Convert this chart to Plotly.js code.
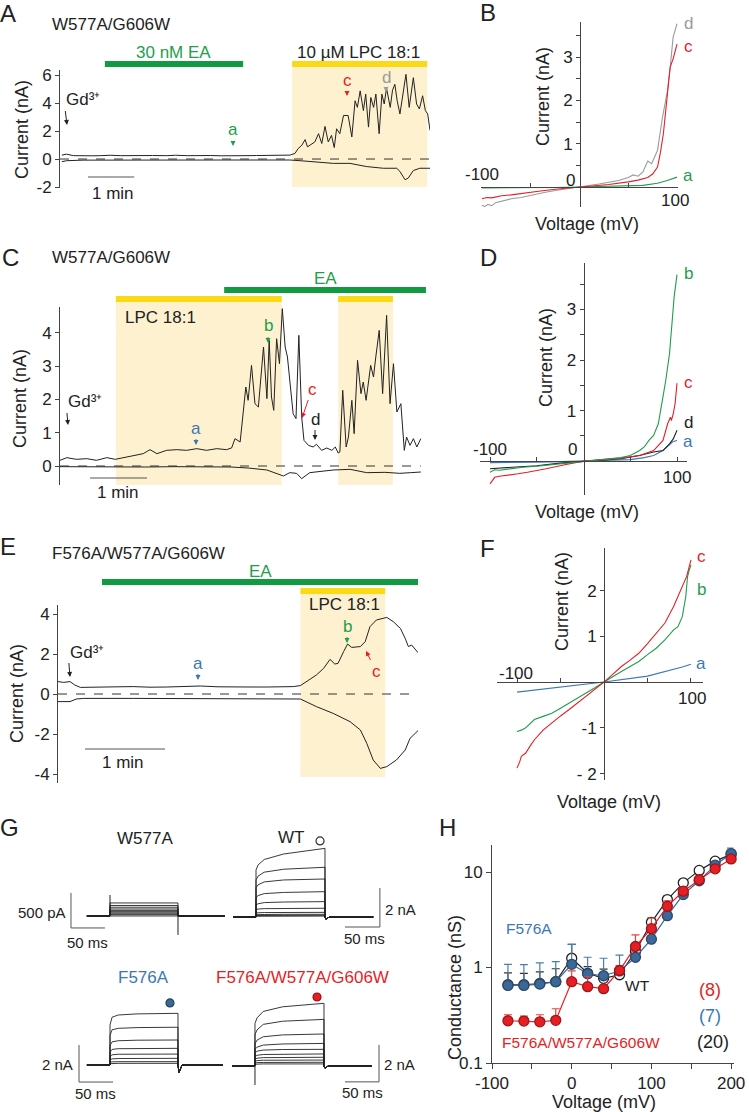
<!DOCTYPE html>
<html><head><meta charset="utf-8">
<script src="https://cdn.plot.ly/plotly-3.0.1.min.js"></script>
<style>html,body{margin:0;padding:0;background:#fff}#plot{width:749px;height:1112px}</style>
</head><body><div id="plot"></div>
<script>
// ---------- Panel A (time in min, current in nA) ----------
const aT  = [0.04,0.14,0.29,0.5,0.7,0.87,1.1,1.3,1.59,1.8,2.0,2.31,2.5,2.75,3.03,3.25,3.5,3.75,4.0,4.25,4.47,4.7,4.97,5.08,5.15,5.23,5.30,5.35,5.41,5.51,5.59,5.66,5.73,5.80,5.87,5.93,5.98,6.05,6.13,6.23,6.31,6.38,6.43,6.49,6.56,6.61,6.67,6.72,6.78,6.83,6.90,6.96,7.01,7.06,7.14,7.19,7.24,7.29,7.35,7.41,7.48,7.55,7.64,7.71,7.77,7.84,7.90,7.95,8.0];
const aUp = [0.28,0.35,0.24,0.26,0.23,0.24,0.27,0.24,0.26,0.23,0.25,0.24,0.27,0.24,0.26,0.25,0.23,0.26,0.24,0.25,0.26,0.25,0.28,0.40,0.75,0.99,1.39,0.87,0.99,1.22,1.81,1.11,2.33,1.22,1.69,0.82,2.16,1.81,3.11,3.11,1.58,4.16,3.69,4.87,3.46,4.64,2.28,4.40,3.69,4.64,1.81,4.64,3.93,5.06,3.69,4.92,5.34,4.16,3.22,4.40,6.05,3.69,5.81,3.93,3.58,4.52,3.46,3.22,2.05];
const aLoT = [0.04,0.14,0.5,1.0,1.5,2.0,2.5,3.0,3.5,4.0,4.5,4.97,5.19,5.55,5.91,6.27,6.63,6.99,7.28,7.35,7.46,7.53,7.64,7.78,8.0];
const aLo  = [-0.19,-0.12,-0.08,-0.07,-0.06,-0.07,-0.08,-0.06,-0.07,-0.07,-0.06,-0.07,-0.12,-0.19,-0.31,-0.31,-0.54,-0.66,-0.66,-0.89,-1.48,-1.36,-0.82,-0.66,-0.66];

// ---------- Panel B (mV, nA) ----------
const bVa = [-100,-75,-50,-25,0,25,50,65,80,90,100];
const bIa = [-0.02,-0.02,-0.01,-0.01,0,0.01,0.02,0.04,0.09,0.15,0.23];
const bVc = [-100,-95,-90,-80,-70,-55,-40,-25,-10,0,15,30,50,60,70,75,80,83,86,90,93,96,100];
const bIc = [-0.27,-0.24,-0.25,-0.2,-0.18,-0.13,-0.09,-0.05,-0.02,0,0.03,0.06,0.12,0.16,0.22,0.3,0.46,0.8,1.23,2.2,2.77,2.96,3.3];
const bVd = [-100,-97,-94,-90,-86,-80,-70,-60,-50,-35,-20,0,20,40,50,55,60,65,70,74,77,80,85,90,93,96,100];
const bId = [-0.42,-0.45,-0.4,-0.43,-0.36,-0.33,-0.27,-0.24,-0.19,-0.12,-0.06,0,0.07,0.15,0.22,0.28,0.25,0.35,0.6,0.54,0.7,0.85,1.6,2.2,2.77,3.46,3.77];

// ---------- Panel C ----------
const cT  = [0,0.12,0.29,0.47,0.64,0.82,0.97,1.11,1.29,1.46,1.58,1.70,1.87,2.05,2.22,2.40,2.57,2.75,2.92,3.01,3.07,3.16,3.26,3.30,3.36,3.42,3.48,3.57,3.63,3.67,3.71,3.75,3.80,3.85,3.90,3.95,3.99,4.04,4.09,4.14,4.19,4.24,4.28,4.36,4.44,4.50,4.59,4.68,4.77,4.83,4.88,4.91,4.96,5.02,5.06,5.12,5.16,5.22,5.28,5.32,5.37,5.45,5.50,5.54,5.60,5.66,5.73,5.79,5.85,5.91,5.98,6.04,6.08,6.14,6.20,6.26,6.33];
const cUp = [0.17,0.25,0.20,0.22,0.17,0.25,0.20,0.25,0.32,0.37,0.49,0.37,0.47,0.49,0.47,0.52,0.47,0.52,0.49,0.54,0.82,0.72,2.37,1.97,3.02,1.87,1.77,3.57,2.02,3.77,2.07,1.67,3.82,3.07,4.72,3.57,3.27,2.37,1.57,1.42,3.92,1.47,0.77,0.62,0.57,0.65,0.47,0.54,0.47,0.57,0.39,0.42,2.27,0.57,0.87,1.97,0.97,3.17,2.17,2.52,1.97,3.02,2.67,3.27,4.07,2.17,4.52,1.87,3.07,1.62,1.87,0.47,0.87,0.62,0.82,0.57,0.82];
const cLoT = [0,0.5,1.0,1.5,2.0,2.5,3.0,3.3,3.63,3.92,4.03,4.15,4.24,4.38,4.79,5.09,5.38,5.7,5.96,6.15,6.33];
const cLo  = [-0.02,-0.03,-0.02,-0.03,-0.02,-0.03,-0.03,-0.06,-0.12,-0.30,-0.20,-0.22,-0.38,-0.20,-0.12,-0.10,-0.20,-0.19,-0.22,-0.20,-0.18];

// ---------- Panel D ----------
const dVb = [-100,-95,-90,-80,-65,-50,-35,-20,0,20,40,50,60,65,70,75,80,85,88,92,95,97,100];
const dIb = [-0.22,-0.17,-0.18,-0.15,-0.12,-0.1,-0.07,-0.04,0,0.03,0.07,0.11,0.21,0.28,0.41,0.51,0.74,1.27,1.6,2.13,2.79,3.26,3.69];
const dVc = [-100,-97,-95,-90,-80,-70,-60,-50,-40,-20,0,20,40,60,75,85,88,90,93,94,96,98,100];
const dIc = [-0.45,-0.36,-0.32,-0.3,-0.28,-0.25,-0.22,-0.19,-0.15,-0.07,0,0.03,0.06,0.11,0.21,0.41,0.6,0.74,0.87,0.8,0.94,1.14,1.54];
const dVd = [-100,-75,-50,-25,0,20,40,60,75,85,92,96,100];
const dId = [-0.15,-0.12,-0.09,-0.04,0,0.03,0.05,0.11,0.18,0.21,0.34,0.44,0.61];
const dVa = [-100,-75,-50,-25,0,25,50,65,75,85,92,96,100];
const dIa = [-0.03,-0.03,-0.02,-0.01,0,0.01,0.03,0.07,0.11,0.21,0.33,0.39,0.41];

// ---------- Panel E ----------
const eT  = [0,0.07,0.15,0.21,0.28,0.52,0.75,0.94,1.15,1.36,1.55,1.78,2.0,2.19,2.4,2.61,2.8,2.94,3.03,3.11,3.23,3.32,3.40,3.46,3.50,3.57,3.62,3.67,3.78,3.84,3.90,3.98,4.11,4.19,4.28,4.34,4.38,4.42,4.46,4.50];
const eUp = [0.62,0.58,0.62,0.45,0.33,0.33,0.36,0.37,0.34,0.35,0.38,0.40,0.36,0.37,0.35,0.35,0.36,0.37,0.42,0.62,0.95,1.28,1.73,1.50,1.53,2.12,2.50,2.33,2.37,2.62,3.37,3.70,3.83,3.62,3.28,2.78,2.37,2.45,2.28,2.07];
const eLoT = [0,0.15,0.23,0.32,0.94,1.78,2.61,3.03,3.23,3.44,3.65,3.78,3.86,3.94,4.03,4.11,4.23,4.34,4.40,4.50];
const eLo  = [-0.38,-0.38,-0.25,-0.22,-0.22,-0.23,-0.22,-0.25,-0.63,-0.97,-1.38,-1.80,-2.47,-3.30,-3.72,-3.63,-3.30,-2.80,-2.22,-1.83];

// ---------- Panel F ----------
const fVa = [-100,-50,0,50,80,90,100];
const fIa = [-0.22,-0.11,0,0.13,0.27,0.33,0.39];
const fVb = [-100,-95,-90,-85,-80,-70,-60,-50,-40,-30,-20,-10,0,10,20,30,40,50,60,70,80,85,90,94,96,98,100];
const fIb = [-1.08,-1.05,-1.0,-0.9,-0.82,-0.75,-0.68,-0.57,-0.46,-0.35,-0.24,-0.12,0,0.12,0.23,0.34,0.45,0.6,0.74,0.92,1.14,1.21,1.43,1.87,2.3,2.45,2.56];
const fVc = [-100,-97,-95,-90,-85,-80,-70,-60,-50,-40,-30,-20,-10,0,10,20,30,40,50,60,70,80,90,95,100];
const fIc = [-1.88,-1.75,-1.62,-1.55,-1.4,-1.26,-1.05,-0.89,-0.74,-0.6,-0.45,-0.31,-0.15,0,0.17,0.34,0.48,0.63,0.84,1.07,1.29,1.65,2.09,2.31,2.67];

// ---------- Panel G (ms; pA or nA) ----------
const gRowT = [0,3,12,40,100];
const w577Lv = [186,150,125,100,80,62,45,30,18,8];
const w577Spike = [300,-271];
const wtRows = [[2.41,2.67,2.95,3.23,3.52],[1.9,2.1,2.3,2.45,2.55],[1.5,1.65,1.8,1.9,1.95],[1.0,1.1,1.2,1.26,1.3],[0.62,0.68,0.74,0.77,0.79],[0.38,0.41,0.43,0.44,0.45],[0.2,0.22,0.23,0.24,0.24],[0.12,0.13,0.13,0.14,0.14],[0.08,0.08,0.09,0.09,0.09],[0.04,0.04,0.05,0.05,0.05]];
const f576Rows = [[2.16,2.58,2.7,2.76,2.79],[1.6,1.9,1.98,2.02,2.04],[1.05,1.25,1.31,1.34,1.35],[0.7,0.84,0.88,0.89,0.9],[0.46,0.55,0.58,0.59,0.59],[0.28,0.33,0.35,0.36,0.36],[0.14,0.17,0.18,0.18,0.18],[0.07,0.08,0.09,0.09,0.09]];
const tripRows = [[2.3,2.6,2.95,3.2,3.39],[1.7,1.95,2.25,2.42,2.52],[1.2,1.4,1.58,1.68,1.73],[0.9,1.02,1.13,1.19,1.22],[0.7,0.8,0.86,0.89,0.9],[0.5,0.58,0.62,0.64,0.65],[0.36,0.42,0.45,0.46,0.47],[0.25,0.29,0.31,0.32,0.32],[0.15,0.18,0.19,0.2,0.2],[0.08,0.1,0.11,0.11,0.11]];
const tripSpike = [-1.03];
const g1BarX = [-57.4,-57.4,-7.4], g1BarY = [329,-171,-171];
const g2BarX = [129,179.6,179.6],  g2BarY = [-0.51,-0.51,1.49];
const g3BarX = [-45.6,-45.6,4.4],  g3BarY = [1.08,-0.92,-0.92];
const g4BarX = [130.4,179.7,179.7],g4BarY = [-0.86,-0.86,1.14];

// ---------- Panel H ----------
const hV    = [-80,-60,-40,-20,0,20,40,60,80,100,120,140,160,180,200];
const hWT   = [0.66,0.66,0.68,0.71,1.25,0.87,0.77,0.84,1.47,2.97,5.14,7.7,10.4,13.0,15.3];
const hWTup = [0.88,0.87,0.9,0.97,1.75,1.02,0.96,1.0,1.6,3.3,5.6,8.2,11.0,13.8,16.5];
const hF    = [0.65,0.65,0.67,0.71,1.08,0.86,0.82,0.92,1.28,1.98,3.49,5.8,8.1,11.8,15.6];
const hFup  = [1.08,1.07,1.12,1.15,1.75,1.28,1.25,1.35,1.55,2.15,3.8,6.3,8.8,12.7,17.8];
const hR    = [0.277,0.275,0.27,0.28,0.71,0.63,0.6,0.93,1.66,2.55,4.38,6.3,8.3,10.8,13.7];
const hRup  = [0.32,0.31,0.32,0.37,0.92,0.8,0.62,1.05,2.2,3.3,5.0,7.0,9.0,11.5,14.5];

// ---------- styling ----------
const W=749, H=1112;
const px=v=>v/W, py=v=>1-v/H;
const FONT='Liberation Sans, Arial, sans-serif';
const INK='#222', AX='#444';
const GREEN='#129a42', GREEN_T='#1f9e4b', YEL='#fbd914', SHADE='#fdf1cf';
const RED='#e41f26', GRAY='#9a9a9a', BLUE='#3b78b5', HBLUE='#3b6896';

const traces=[];
function L(x,y,xa,ya,color,width){traces.push({type:'scatter',mode:'lines',x:x,y:y,xaxis:xa,yaxis:ya,line:{color:color,width:width||1},hoverinfo:'skip',showlegend:false,cliponaxis:false});}

// A
L(aT,aUp,'x','y',INK,1); L(aLoT,aLo,'x','y',INK,1);
// B
L(bVa,bIa,'x2','y2',GREEN_T,1.1); L(bVd,bId,'x2','y2',GRAY,1.1); L(bVc,bIc,'x2','y2',RED,1.1);
// C
L(cT,cUp,'x3','y3',INK,1); L(cLoT,cLo,'x3','y3',INK,1);
// D
L(dVa,dIa,'x4','y4',BLUE,1.1); L(dVd,dId,'x4','y4',INK,1.1); L(dVc,dIc,'x4','y4',RED,1.1); L(dVb,dIb,'x4','y4',GREEN_T,1.1);
// E
L(eT,eUp,'x5','y5',INK,1); L(eLoT,eLo,'x5','y5',INK,1);
// F
L(fVa,fIa,'x6','y6',BLUE,1.1); L(fVb,fIb,'x6','y6',GREEN_T,1.1); L(fVc,fIc,'x6','y6',RED,1.1);

// G families
function family(xa,ya,t0,t1,rows,tail){
  rows.slice().reverse().forEach(r=>{
    const x=[t0,0].concat(gRowT).concat([100,101.5,106,t1]);
    const y=[0,0].concat(r).concat([0,tail,0,0]);
    L(x,y,xa,ya,INK,0.9);
  });
}
w577Lv.slice().reverse().forEach(lv=>L([-34,0,0,100,100,169],[0,0,lv,lv,0,0],'x7','y7',INK,0.9));
L([0,0],[0,w577Spike[0]],'x7','y7',INK,1); L([100,100],[0,w577Spike[1]],'x7','y7',INK,1);
family('x8','y8',-33,170,wtRows,-0.12);
family('x9','y9',-34,166,f576Rows,-0.4);
family('x10','y10',-33,169,tripRows,-0.12);
L([0,0],[0,tripSpike[0]],'x10','y10',INK,1);
L(g1BarX,g1BarY,'x7','y7','#555',1); L(g2BarX,g2BarY,'x8','y8','#555',1);
L(g3BarX,g3BarY,'x9','y9','#555',1); L(g4BarX,g4BarY,'x10','y10','#555',1);
function dot(x,y,xa,ya,fill,edge){traces.push({type:'scatter',mode:'markers',x:[x],y:[y],xaxis:xa,yaxis:ya,marker:{size:8,color:fill,line:{color:edge,width:1.2}},hoverinfo:'skip',showlegend:false,cliponaxis:false});}
dot(92.8,3.9,'x8','y8','#fff','#333');
dot(88.2,3.35,'x9','y9',HBLUE,'#23415f');
dot(89.9,3.73,'x10','y10',RED,'#9a1010');

// H
function hTrace(y,up,fill,edge,lineC,errC){
  traces.push({type:'scatter',mode:'lines+markers',x:hV,y:y,xaxis:'x11',yaxis:'y11',
    line:{color:lineC,width:1.2},marker:{size:10,color:fill,line:{color:edge,width:1.3}},
    error_y:{type:'data',symmetric:false,array:up.map((u,i)=>u-y[i]),arrayminus:y.map(()=>0),color:errC,thickness:1.2,width:4},
    hoverinfo:'skip',showlegend:false,cliponaxis:false});
}
hTrace(hWT,hWTup,'#fff','#222','#222','#333');
hTrace(hF,hFup,HBLUE,'#2a4a6c',HBLUE,'#4a7db0');
hTrace(hR,hRup,RED,'#a01515',RED,'#e84040');

// ---------- axes ----------
function ax(domain,range,extra){return Object.assign({domain:domain,range:range,showgrid:false,zeroline:false,showline:true,linecolor:AX,linewidth:1,ticks:'outside',ticklen:4,tickcolor:AX,tickwidth:1,tickfont:{size:17,color:INK,family:FONT},fixedrange:true},extra||{});}
function hid(domain,range){return {domain:domain,range:range,visible:false,fixedrange:true};}
const minorHalf={tickmode:'array',tickvals:[0.5,1.5,2.5,3.5],ticks:'outside',ticklen:4,tickcolor:AX,tickwidth:1,showgrid:false};
const minorX={tickmode:'array',tickvals:[-50,50],ticks:'inside',ticklen:4,tickcolor:AX,tickwidth:1,showgrid:false};
const layout={
  width:W,height:H,margin:{l:0,r:0,t:0,b:0},paper_bgcolor:'#fff',plot_bgcolor:'rgba(0,0,0,0)',
  showlegend:false,font:{family:FONT,color:INK},
  xaxis: hid([px(60),px(430)],[0,8.0]),
  yaxis: ax([py(188),py(70)],[-2.07,6.36],{anchor:'x',tickvals:[-2,0,2,4,6],ticktext:['-2','0','2','4','6']}),
  xaxis2: ax([px(481),px(678)],[-101,101],{anchor:'free',position:py(187),ticks:'inside',tickvals:[-100,100],showticklabels:false,minor:minorX}),
  yaxis2: ax([py(207),py(22)],[-0.46,3.81],{anchor:'free',position:px(580),tickvals:[1,2,3],ticktext:['1','2','3'],minor:minorHalf}),
  xaxis3: hid([px(60),px(430)],[0,6.491]),
  yaxis3: ax([py(485),py(307)],[-0.57,4.77],{anchor:'x3',tickvals:[0,1,2,3,4],ticktext:['0','1','2','3','4']}),
  xaxis4: ax([px(480),px(687)],[-110.7,110.7],{anchor:'free',position:py(461),ticks:'inside',tickvals:[-100,100],showticklabels:false,minor:minorX}),
  yaxis4: ax([py(495),py(263)],[-0.67,3.92],{anchor:'free',position:px(583.5),tickvals:[1,2,3],ticktext:['1','2','3'],minor:minorHalf}),
  xaxis5: hid([px(58),px(418)],[0,4.5]),
  yaxis5: ax([py(783),py(605)],[-4.45,4.45],{anchor:'x5',tickvals:[-4,-2,0,2,4],ticktext:['-4','-2','0','2','4']}),
  xaxis6: ax([px(497),px(703)],[-123,113.8],{anchor:'free',position:py(682),ticks:'inside',tickvals:[-100,100],showticklabels:false,minor:minorX}),
  yaxis6: ax([py(780),py(548)],[-2.14,2.93],{anchor:'free',position:px(604),tickvals:[-2,-1,1,2],ticktext:['- 2','-1','1','2']}),
  xaxis7: hid([px(65),px(230)],[-66.2,176.5]),  yaxis7: hid([py(940),py(880)],[-343,514]),
  xaxis8: hid([px(228),px(385)],[-40.6,187]),   yaxis8: hid([py(935),py(830)],[-0.92,4.46]),
  xaxis9: hid([px(65),px(230)],[-66.2,176.5]),  yaxis9: hid([py(1090),py(985)],[-1.35,4.32]),
  xaxis10: hid([px(228),px(385)],[-39.1,188.4]),yaxis10: hid([py(1090),py(985)],[-1.30,4.38]),
  xaxis11: ax([px(492),px(733.5)],[-100,203],{anchor:'y11',ticklen:5,tickvals:[-100,0,100,200],ticktext:['-100','0','100','200'],
           minor:{tickmode:'array',tickvals:[-50,50,150],ticks:'outside',ticklen:5,tickcolor:AX,tickwidth:1,showgrid:false}}),
  yaxis11: ax([py(1063),py(845)],[-1,1.283],{anchor:'x11',type:'log',ticklen:5,tickvals:[0.1,1,10],ticktext:['0.1','1','10']})
};

// ---------- shapes ----------
function rect(xr,x0,x1,top,bot,color,layer){return {type:'rect',xref:xr,yref:'paper',x0:x0,x1:x1,y0:py(bot),y1:py(top),fillcolor:color,line:{width:0},layer:layer||'below'};}
function hline(xr,yr,x0,x1,y,dash){return {type:'line',xref:xr,yref:yr,x0:x0,x1:x1,y0:y,y1:y,line:{color:'#333',width:1,dash:dash||'solid'}};}
function pline(xr,x0,x1,yp){return {type:'line',xref:xr,yref:'paper',x0:x0,x1:x1,y0:py(yp),y1:py(yp),line:{color:'#555',width:1}};}
layout.shapes=[
  rect('x',5.02,7.94,67,187,SHADE), rect('x',5.02,7.94,61,67,YEL,'above'), rect('x',0.97,3.96,61,67,GREEN,'above'),
  hline('x','y',0,8,0,'dash'), pline('x',0.605,1.605,177),
  rect('x3',0.98,3.89,302,485,SHADE), rect('x3',4.88,5.84,302,485,SHADE),
  rect('x3',0.98,3.89,296,302,YEL,'above'), rect('x3',4.88,5.84,296,302,YEL,'above'), rect('x3',2.88,6.42,287,293,GREEN,'above'),
  hline('x3','y3',0,6.33,0,'dash'), pline('x3',0.526,1.526,478),
  rect('x5',3.03,4.09,594,777,SHADE), rect('x5',3.03,4.09,588,594,YEL,'above'), rect('x5',0.55,4.5,579,585,GREEN,'above'),
  hline('x5','y5',0,4.5,0,'dash'), pline('x5',0.3375,1.3375,749)
];

// ---------- annotations ----------
const ann=[];
function T(text,x,y,o){o=o||{};ann.push({text:text,x:px(x),y:py(y),xref:'paper',yref:'paper',showarrow:false,xanchor:o.xa||'center',yanchor:'middle',textangle:o.angle||0,font:{family:FONT,size:o.size||17,color:o.color||INK}});}
// labelled arrow: text sits at the tail (lx,ly), arrow points to head (hx,hy)
function LA(text,lx,ly,hx,hy,color,xa){ann.push({text:text,x:px(hx),y:py(hy),xref:'paper',yref:'paper',showarrow:true,ax:lx-hx,ay:ly-hy,xanchor:xa||'center',yanchor:'middle',arrowhead:2,arrowsize:1,arrowwidth:1,arrowcolor:color||INK,standoff:0,startstandoff:0,font:{family:FONT,size:17,color:color||INK}});}
const GD='Gd\u00B3\u207A';
// letters
[['A',8,13],['B',488,12],['C',10,257],['D',488,257],['E',8,547],['F',487,549],['G',9,827],['H',447,827]].forEach(l=>T(l[0],l[1],l[2],{size:24}));
// A
T('W577A/G606W',111,25); T('30 nM EA',173,52,{color:GREEN_T}); T('10 µM LPC 18:1',358,52);
T('1 min',113,193);
LA(GD,64,100,67,125,INK,'left');
LA('a',233,130,233,146,GREEN_T); LA('c',347,80,347,96,RED); LA('d',386,77,386,92,GRAY);
T('Current (nA)',22,130,{angle:-90,size:18});
// B
T('Current (nA)',543,97,{angle:-90,size:18}); T('Voltage (mV)',587,224,{size:18});
T('-100',482,174); T('0',570,180); T('100',675,200);
T('d',688,24,{color:GRAY}); T('c',688,47,{color:RED}); T('a',688,175,{color:GREEN_T});
// C
T('W577A/G606W',111,257); T('EA',325,278,{color:GREEN_T}); T('LPC 18:1',160,317);
T('1 min',118,492);
LA(GD,66,402,68,425,INK,'left');
LA('a',196,428,196,445,BLUE); LA('b',268,326,268,343,GREEN_T); LA('c',312,389,302,418,RED); LA('d',315,419,315,440,INK);
T('Current (nA)',20,399,{angle:-90,size:18});
// D
T('Current (nA)',546,358,{angle:-90,size:18}); T('Voltage (mV)',587,512,{size:18});
T('-100',490,450); T('0',572,450); T('100',677,477);
T('b',688,273,{color:GREEN_T}); T('c',688,383,{color:RED}); T('d',688,423); T('a',688,442,{color:BLUE});
// E
T('F576A/W577A/G606W',138,553); T('EA',260,571,{color:GREEN_T}); T('LPC 18:1',344,605);
T('1 min',123,762);
LA(GD,68,652,70,677,INK,'left');
LA('a',198,663,198,680,BLUE); LA('b',347,626,347,643,GREEN_T); LA('c',376,671,366,651,RED);
T('Current (nA)',17,694,{angle:-90,size:18});
// F
T('Current (nA)',562,602,{angle:-90,size:18}); T('Voltage (mV)',609,802,{size:18});
T('-100',516,673); T('100',692,698);
T('c',701,556,{color:RED}); T('b',701,589,{color:GREEN_T}); T('a',701,663,{color:BLUE});
// G
T('W577A',145,838); T('WT',291,837); T('F576A',143,977,{color:BLUE}); T('F576A/W577A/G606W',302,977,{color:RED});
T('500 pA',68,912,{xa:'right',size:15}); T('50 ms',87,943,{size:15});
T('2 nA',383,909,{xa:'left',size:15}); T('50 ms',364,938,{size:15});
T('2 nA',75,1064,{xa:'right',size:15}); T('50 ms',95,1093,{size:15});
T('2 nA',382,1064,{xa:'left',size:15}); T('50 ms',362,1092,{size:15});
// H
T('Conductance (nS)',455,987,{angle:-90,size:18}); T('Voltage (mV)',604,1102,{size:18});
T('F576A',529,928,{color:BLUE,size:15.5}); T('WT',637,985,{size:15.5});
T('(8)',710,990,{color:RED,size:18}); T('(7)',710,1016,{color:BLUE,size:18}); T('(20)',713,1042,{size:18});
T('F576A/W577A/G606W',581,1042,{color:RED,size:15.5});
layout.annotations=ann;

Plotly.newPlot('plot',traces,layout,{staticPlot:true,displayModeBar:false});
</script></body></html>
